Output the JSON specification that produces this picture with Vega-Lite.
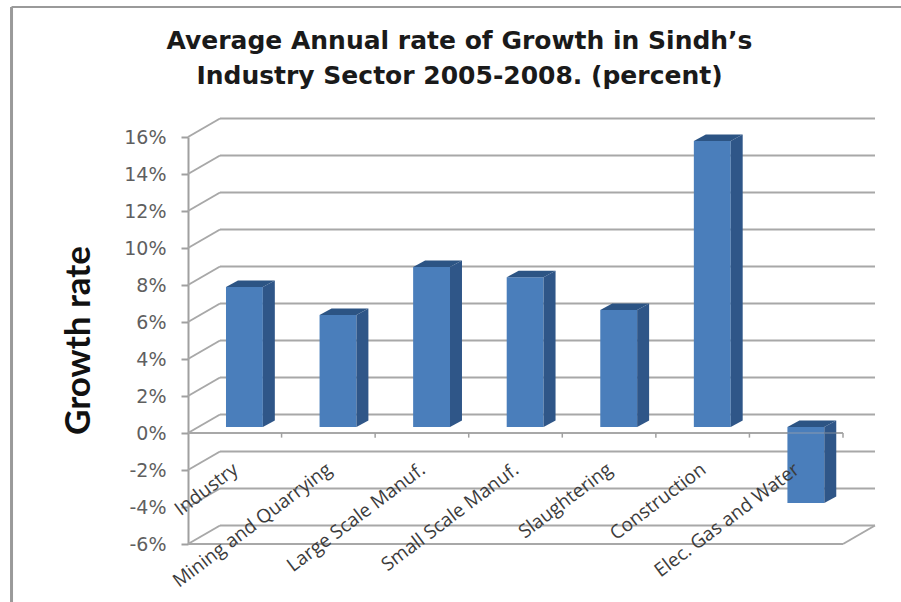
{
  "$schema": "https://vega.github.io/schema/vega-lite/v6.json",
  "autosize": "none",
  "width": 655,
  "height": 407,
  "padding": {"left": 188, "top": 137, "right": 58, "bottom": 58},
  "background": "white",
  "title": {
    "text": ["Average Annual rate of Growth in Sindh’s", "Industry Sector 2005-2008. (percent)"],
    "font": "DejaVu Sans",
    "fontSize": 25,
    "fontWeight": "bold",
    "color": "#1a1a1a",
    "anchor": "middle",
    "frame": "group",
    "dx": -56,
    "offset": -84,
    "lineHeight": 35
  },
  "config": {"view": {"stroke": null}},
  "resolve": {"axis": {"y": "independent"}, "scale": {"y": "shared"}},
  "datasets": {
    "sectors": [
      {"sector": "Industry", "growth": 7.57},
      {"sector": "Mining and Quarrying", "growth": 6.06},
      {"sector": "Large Scale Manuf.", "growth": 8.65},
      {"sector": "Small Scale Manuf.", "growth": 8.1},
      {"sector": "Slaughtering", "growth": 6.33},
      {"sector": "Construction", "growth": 15.46},
      {"sector": "Elec. Gas and Water", "growth": -4.1}
    ],
    "ticks": [
      {"v": -6}, {"v": -4}, {"v": -2}, {"v": 0}, {"v": 2}, {"v": 4},
      {"v": 6}, {"v": 8}, {"v": 10}, {"v": 12}, {"v": 14}, {"v": 16}
    ],
    "slots": [{"n": 1}, {"n": 2}, {"n": 3}, {"n": 4}, {"n": 5}, {"n": 6}, {"n": 7}]
  },
  "data": {"name": "sectors"},
  "transform": [
    {"window": [{"op": "row_number", "as": "n"}]},
    {"calculate": "datum.n - 1 + 0.406", "as": "x0"},
    {"calculate": "datum.x0 + 0.394", "as": "x1"},
    {"calculate": "0.32 + max(datum.growth, 0)", "as": "top"},
    {"calculate": "0.32 + min(datum.growth, 0)", "as": "bottom"}
  ],
  "layer": [
    {
      "data": {"name": "ticks"},
      "transform": [{"calculate": "datum.v + 1", "as": "back"}],
      "mark": {"type": "rule", "color": "#a8a8a8", "strokeWidth": 2},
      "encoding": {
        "x": {"datum": 0.342, "type": "quantitative", "scale": {"domain": [0, 7], "nice": false, "zero": false}, "axis": null},
        "x2": {"datum": 7.342},
        "y": {
          "field": "back",
          "type": "quantitative",
          "scale": {"domain": [-6, 16], "nice": false, "zero": false},
          "axis": {
            "values": [-6, -4, -2, 0, 2, 4, 6, 8, 10, 12, 14, 16],
            "labelExpr": "datum.value + '%'",
            "labelOverlap": false,
            "labelBound": false,
            "labelFlush": false,
            "grid": false,
            "domainColor": "#a0a0a0",
            "domainWidth": 2,
            "tickColor": "#a0a0a0",
            "tickWidth": 2,
            "tickSize": 7,
            "labelPadding": 15,
            "labelFont": "DejaVu Sans",
            "labelFontSize": 19,
            "labelColor": "#5f5f5f",
            "title": "Growth rate",
            "titleFont": "Lato",
            "titleFontSize": 35,
            "titleFontWeight": "bold",
            "titleColor": "#111111",
            "titleX": -110,
            "titleY": 203,
            "titleAngle": 270,
            "titleAlign": "center",
            "titleBaseline": "middle"
          }
        }
      }
    },
    {
      "data": {"name": "ticks"},
      "transform": [{"calculate": "datum.v + 1", "as": "back"}],
      "mark": {"type": "rule", "color": "#a8a8a8", "strokeWidth": 2},
      "encoding": {
        "x": {"datum": 0, "type": "quantitative", "axis": null},
        "x2": {"datum": 0.342},
        "y": {"field": "v", "type": "quantitative", "axis": null},
        "y2": {"field": "back"}
      }
    },
    {
      "data": {"values": [{"level": -6}, {"level": 0}]},
      "mark": {"type": "rule", "color": "#a8a8a8", "strokeWidth": 2},
      "encoding": {
        "x": {"datum": 0, "type": "quantitative", "axis": null},
        "x2": {"datum": 7},
        "y": {"field": "level", "type": "quantitative", "axis": null}
      }
    },
    {
      "data": {"values": [{"level": -6}]},
      "mark": {"type": "rule", "color": "#a8a8a8", "strokeWidth": 2},
      "encoding": {
        "x": {"datum": 7, "type": "quantitative", "axis": null},
        "x2": {"datum": 7.342},
        "y": {"datum": -6, "type": "quantitative", "axis": null},
        "y2": {"datum": -5}
      }
    },
    {
      "data": {"name": "slots"},
      "mark": {"type": "rule", "color": "#a0a0a0", "strokeWidth": 1.5},
      "encoding": {
        "x": {"field": "n", "type": "quantitative", "axis": null},
        "y": {"datum": 0, "type": "quantitative", "axis": null},
        "y2": {"datum": -0.25}
      }
    },
    {
      "mark": {"type": "rect", "color": "#4a7ebb"},
      "encoding": {
        "x": {"field": "x0", "type": "quantitative", "axis": null},
        "x2": {"field": "x1"},
        "y": {"field": "top", "type": "quantitative", "axis": null},
        "y2": {"field": "bottom"}
      }
    },
    {
      "transform": [
        {"calculate": "[0, 1]", "as": "t"},
        {"flatten": ["t"]},
        {"calculate": "datum.x1 + 0.128 * datum.t", "as": "sx"},
        {"calculate": "datum.top + 0.35 * datum.t", "as": "sy"},
        {"calculate": "datum.bottom + 0.35 * datum.t", "as": "sy2"}
      ],
      "mark": {"type": "area", "color": "#2f5688", "orient": "vertical"},
      "encoding": {
        "x": {"field": "sx", "type": "quantitative", "axis": null},
        "y": {"field": "sy", "type": "quantitative", "stack": null, "axis": null},
        "y2": {"field": "sy2"},
        "detail": {"field": "sector"}
      }
    },
    {
      "transform": [
        {"calculate": "[0, 1, 2, 3]", "as": "t"},
        {"flatten": ["t"]},
        {"calculate": "datum.x0 + [0, 0.128, 0.394, 0.522][datum.t]", "as": "sx"},
        {"calculate": "datum.top + [0, 0.35, 0.35, 0.35][datum.t]", "as": "sy"},
        {"calculate": "datum.top + [0, 0, 0, 0.35][datum.t]", "as": "sy2"}
      ],
      "mark": {"type": "area", "color": "#2c5484", "orient": "vertical"},
      "encoding": {
        "x": {"field": "sx", "type": "quantitative", "axis": null},
        "y": {"field": "sy", "type": "quantitative", "stack": null, "axis": null},
        "y2": {"field": "sy2"},
        "detail": {"field": "sector"}
      }
    },
    {
      "data": {"values": [{"level": 0}]},
      "mark": {"type": "rule", "color": "#a8a8a8", "strokeWidth": 1.5, "opacity": 0.45},
      "encoding": {
        "x": {"datum": 6.4, "type": "quantitative", "axis": null},
        "x2": {"datum": 7},
        "y": {"field": "level", "type": "quantitative", "axis": null}
      }
    },
    {
      "transform": [{"calculate": "datum.n - 1 + 0.51", "as": "labelX"}],
      "mark": {"type": "text", "font": "Open Sans", "fontSize": 19, "color": "#3c3c3c", "angle": 323, "align": "right", "baseline": "middle"},
      "encoding": {
        "x": {"field": "labelX", "type": "quantitative", "axis": null},
        "y": {"datum": -1.85, "type": "quantitative", "axis": null},
        "text": {"field": "sector"}
      }
    },
    {
      "data": {"values": [{"edge": "frame"}]},
      "mark": {"type": "rule", "color": "#9a9a9a", "strokeWidth": 3},
      "encoding": {
        "x": {"datum": -1.886, "type": "quantitative", "axis": null},
        "y": {"datum": 23.03, "type": "quantitative", "axis": null},
        "y2": {"datum": -9.14}
      }
    },
    {
      "data": {"values": [{"edge": "frame"}]},
      "mark": {"type": "rule", "color": "#9a9a9a", "strokeWidth": 2},
      "encoding": {
        "x": {"datum": -1.886, "type": "quantitative", "axis": null},
        "x2": {"datum": 7.62},
        "y": {"datum": 23.03, "type": "quantitative", "axis": null}
      }
    }
  ]
}
